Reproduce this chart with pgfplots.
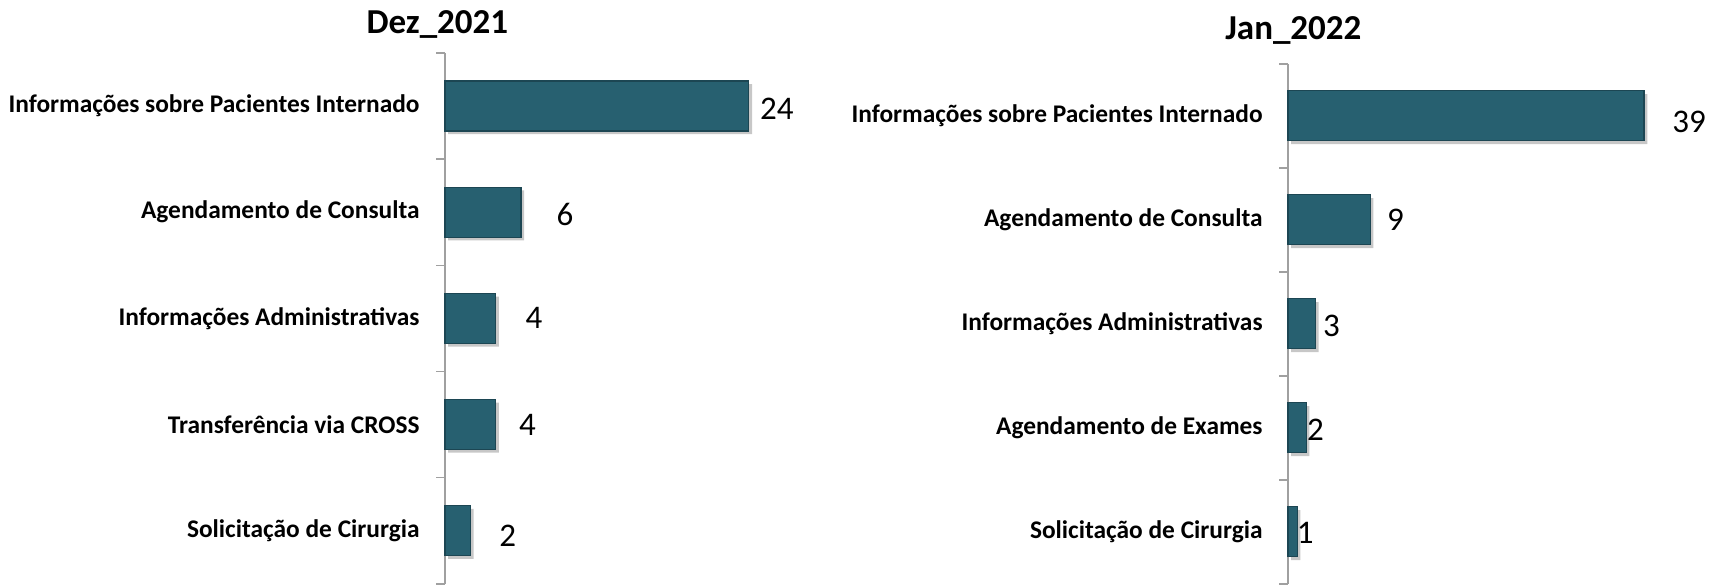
\documentclass[border=0pt]{standalone}
\usepackage{pgfplots}
\usepackage{pgfplotstable}
\pgfplotsset{compat=1.18}
\usepackage{fontspec}
\setmainfont{Carlito}

\definecolor{barmain}{HTML}{276070}
\definecolor{bardark}{HTML}{1C4653}
\definecolor{axgray}{HTML}{A0A0A0}

% idx value label-xshift label-yshift
\pgfplotstableread{
idx val xoff yoff
0 24 14 -1.5
1 6 22 -1
2 4 19.2 0
3 4 15.9 0
4 2 18.7 -2.5
}\dezdata
\pgfplotstableread{
idx val xoff yoff
0 39 22.5 -3
1 9 12.6 0
2 3 8 -1
3 2 4.6 -1
4 1 4 -0.5
}\jandata

\pgfplotsset{
  painel/.style={
    xbar, y dir=reverse, clip=false,
    bar width=25pt,
    xmin=0, ymin=-0.5, ymax=4.5,
    axis x line=none, axis y line*=left,
    axis line style={axgray, line width=0.7pt},
    ytick={0,...,4}, major tick length=0pt,
    minor ytick={-0.5,0.5,...,4.5}, minor tick length=4.5pt,
    tick align=outside, minor tick style={axgray, line width=0.7pt},
    yticklabel style={font=\fontsize{12.7}{14}\selectfont\bfseries, inner xsep=0pt, xshift=-12.5pt},
    every axis title shift=0pt,
    title style={font=\fontsize{17.5}{19}\selectfont\bfseries, anchor=center},
    /pgf/number format/assume math mode=true,
    nodes near coords,
    nodes near coords style={font=\fontsize{16.5}{18}\selectfont, anchor=center, xshift=\xoff pt, yshift=\yoff pt},
    visualization depends on={\thisrow{xoff} \as \xoff},
    visualization depends on={\thisrow{yoff} \as \yoff},
  },
  barra/.style={fill=barmain, draw=bardark, line width=0.6pt,
    preaction={fill=black!22, draw=none, transform canvas={xshift=1.6pt, yshift=-1.6pt}}},
}

\begin{document}
\begin{tikzpicture}
\useasboundingbox (0,0) rectangle (861.5pt,-292pt);

\begin{axis}[painel,
    at={(222.5pt,-26.4pt)}, anchor=north west,
    x=6.33pt, y=53.1pt, xmax=30,
    yticklabels={Informações sobre Pacientes Internado, Agendamento de Consulta, Informações Administrativas, Transferência via CROSS, Solicitação de Cirurgia},
    title={Dez\_2021},
    title style={at={(axis description cs:0,1)}, xshift=-3.8pt, yshift=14.4pt},
  ]
  \addplot[barra] table[x=val, y=idx] {\dezdata};
\end{axis}

\begin{axis}[painel,
    at={(644pt,-31.9pt)}, anchor=north west,
    x=4.565pt, y=52pt, xmax=42,
    yticklabels={Informações sobre Pacientes Internado, Agendamento de Consulta, Informações Administrativas, Agendamento de Exames, Solicitação de Cirurgia},
    title={Jan\_2022},
    title style={at={(axis description cs:0,1)}, xshift=2.7pt, yshift=16.5pt},
  ]
  \addplot[barra] table[x=val, y=idx] {\jandata};
\end{axis}
\end{tikzpicture}
\end{document}
